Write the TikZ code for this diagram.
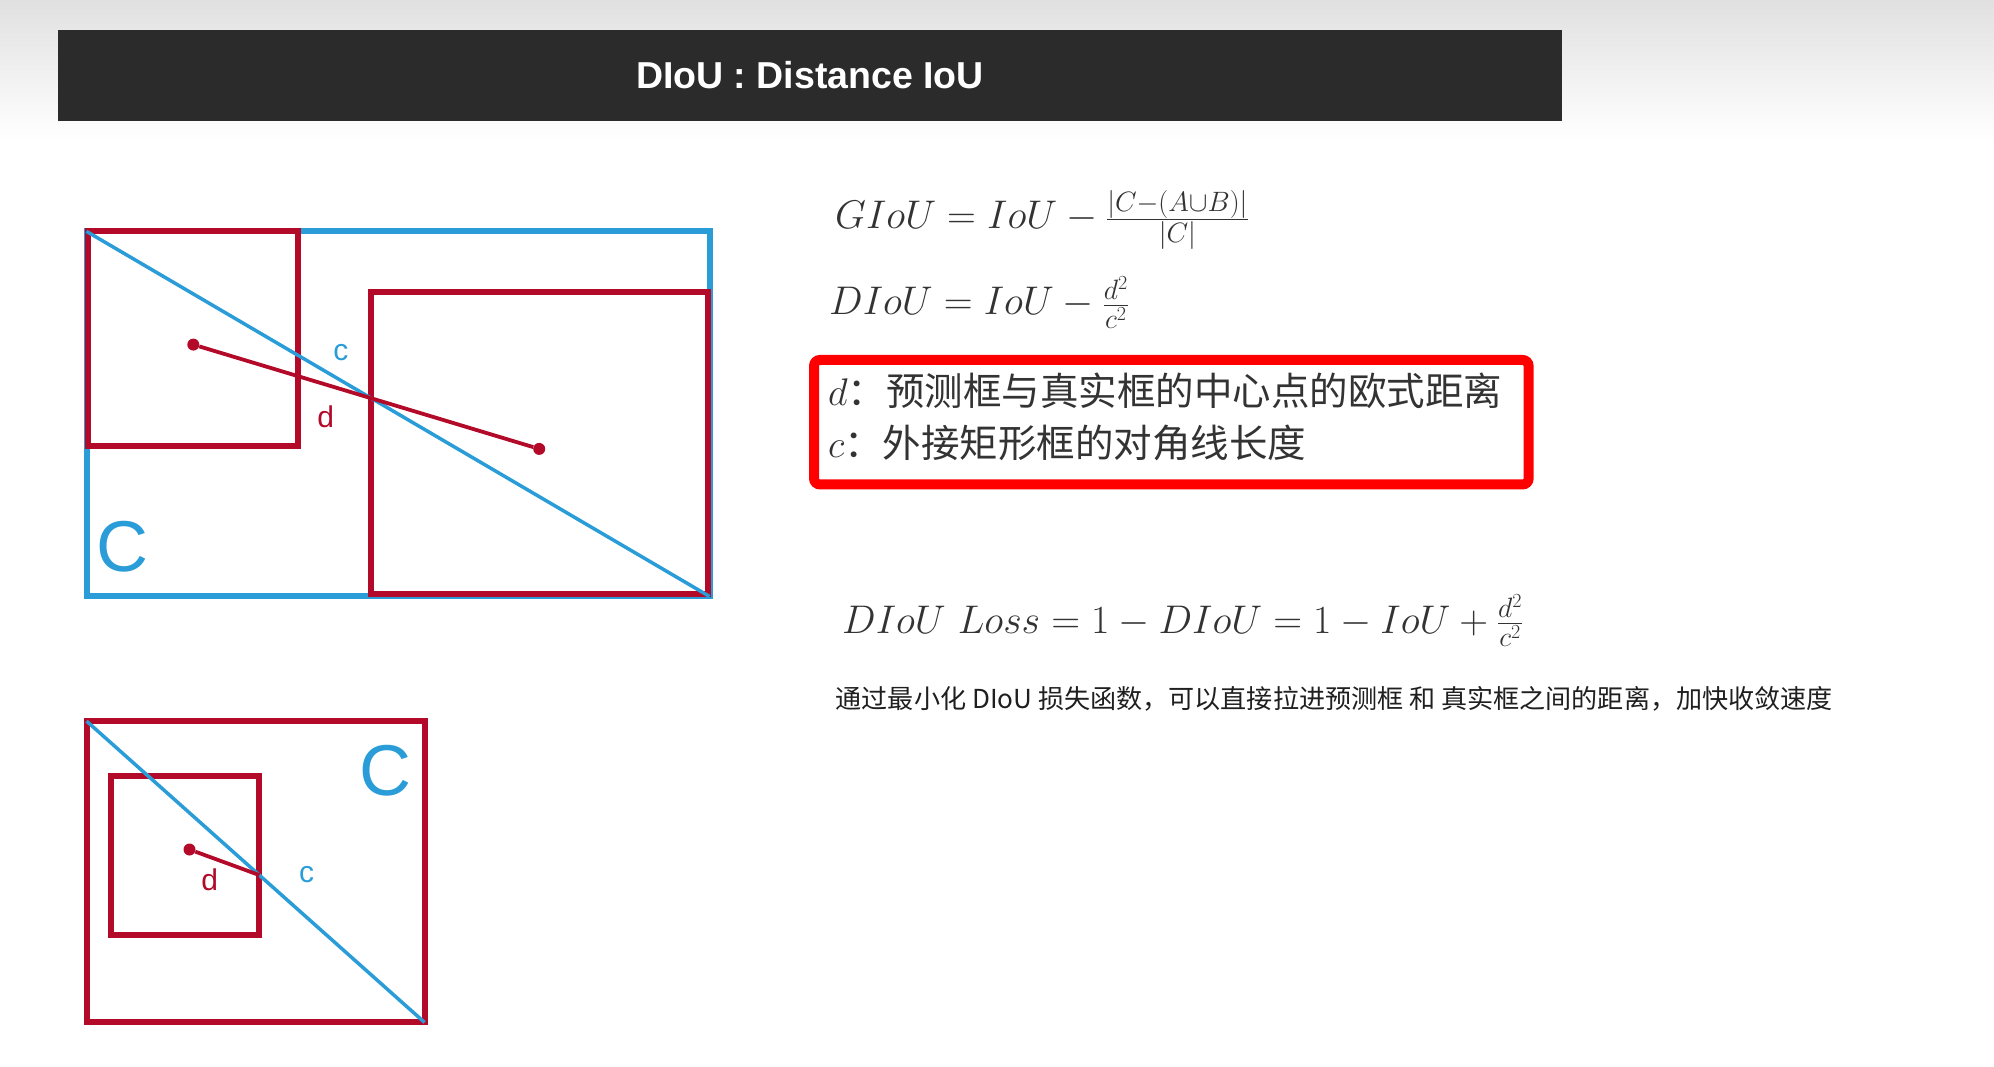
\RequirePackage{fix-cm}
\documentclass[tikz,border=0pt]{standalone}
\usepackage{fontspec}
\setsansfont{Liberation Sans}
\newfontfamily\cjk{Noto Sans CJK SC}
\definecolor{boxblue}{RGB}{42,157,216}
\definecolor{boxred}{RGB}{178,10,40}
\definecolor{bar}{HTML}{2B2B2B}
\definecolor{ink}{HTML}{333333}
\begin{document}
\begin{tikzpicture}[x=1pt,y=-1pt]
\tikzstyle{frameB}=[draw=boxblue,line width=6pt,inner sep=0,outer sep=0,rectangle]
\tikzstyle{frameR}=[draw=boxred,line width=6pt,inner sep=0,outer sep=0,rectangle]
\tikzstyle{diag}=[boxblue,line width=3.5pt]
\tikzstyle{dline}=[boxred,line width=3.8pt]
\tikzstyle{ctr}=[circle,fill=boxred,inner sep=0,minimum size=12pt]
\tikzstyle{lab}=[font=\sffamily\fontsize{30}{32}\selectfont,inner sep=0]
\tikzstyle{bigC}=[font=\sffamily\fontsize{72}{72}\selectfont,text=boxblue,inner sep=0]
\tikzstyle{eq}=[font=\fontsize{40}{48}\selectfont,text=ink,inner sep=0,anchor=base west]
\useasboundingbox (0,0) rectangle (1994,1067);
\shade[top color=black!12,bottom color=white] (0,0) rectangle (1994,140);
\node[fill=bar,text=white,minimum width=1504pt,minimum height=91pt,inner sep=0,
  font=\sffamily\bfseries\fontsize{37.5}{40}\selectfont] (title) at (810,75.5) {DIoU : Distance IoU};
% boxes apart
\node[frameB,minimum width=623pt,minimum height=365pt] (C1) at (398,413.9) {};
\node[frameR,minimum width=210pt,minimum height=215pt] (A1) at (192.6,338.9) {};
\node[frameR,minimum width=337pt,minimum height=301.4pt] (B1) at (539.8,443.2) {};
\draw[diag] (C1.north west) -- (C1.south east);
\node[ctr] (a1) at (193.3,344.6) {};
\node[ctr] (b1) at (539.2,448.9) {};
\draw[dline] (a1) -- (b1);
\node[lab,text=boxblue] (c1) at (340.8,352.3) {c};
\node[lab,text=boxred] (d1) at (325.6,417.1) {d};
\node[bigC] (C1lab) at (122,547) {C};
% box inside box
\node[frameR,minimum width=338pt,minimum height=301.3pt] (C2) at (255.6,871.8) {};
\node[frameR,minimum width=148.8pt,minimum height=159pt] (A2) at (185,855.2) {};
\draw[diag] (C2.north west) -- (C2.south east);
\node[ctr] (a2) at (189.5,849.5) {};
\coordinate (m2) at (259.4,875.1);
\draw[dline] (a2) -- (m2);
\node[lab,text=boxred] (d2) at (209.8,880) {d};
\node[lab,text=boxblue] (c2) at (306.5,874.9) {c};
\node[bigC] (C2lab) at (385.3,770.6) {C};
% formulas
\node[eq] (giou) at (835,229) {$GIoU = IoU - \frac{|C-(A\cup B)|}{|C|}$};
\node[eq] (diou) at (829,315) {$DIoU = IoU - \frac{d^2}{c^2}$};
\node[draw=red,line width=10pt,rounded corners=6pt,minimum width=714.6pt,minimum height=124.5pt,inner sep=0] (note) at (1171.3,422.2) {};
\foreach \y/\s/\t in {405/d/预测框与真实框的中心点的欧式距离, 457/c/外接矩形框的对角线长度}{
	\node[eq,font=\cjk\fontsize{38.5}{40}\selectfont] (note-\s) at (828,\y) {$\s$：\t};
}
\node[eq] (loss) at (842,633) {$DIoU\ Loss = 1 - DIoU = 1 - IoU + \frac{d^2}{c^2}$};
\node[anchor=base west,inner sep=0,text=black!88,font=\cjk\fontsize{26.1}{30}\selectfont] (expl) at (835.5,708)
  {通过最小化 DIoU 损失函数，可以直接拉进预测框 和 真实框之间的距离，加快收敛速度};
\end{tikzpicture}
\end{document}
